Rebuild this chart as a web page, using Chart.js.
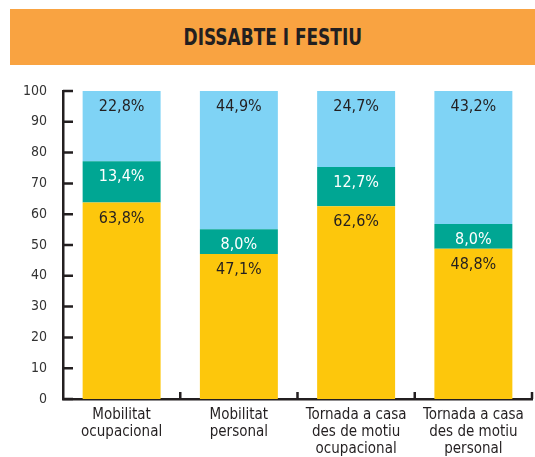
<!DOCTYPE html>
<html>
<head>
<meta charset="utf-8">
<script src="https://cdn.jsdelivr.net/npm/chart.js@4"></script>
<style>
  html, body { margin: 0; padding: 0; background: #fff; }
  #wrap { position: relative; width: 535px; height: 457px; }
  #banner {
    position: absolute; left: 10px; top: 9px; width: 525px; height: 56px;
    background: #f9a341; color: #231f20;
    font-family: "DejaVu Sans Condensed", sans-serif;
    font-weight: bold; font-size: 23px; line-height: 56px; text-align: center;
  }
  #banner span { display: inline-block; transform: scaleX(0.82); }
  #chart { position: absolute; left: 0; top: 0; }
</style>
</head>
<body>
<div id="wrap">
  <div id="banner"><span>DISSABTE I FESTIU</span></div>
  <canvas id="chart" width="535" height="457"></canvas>
</div>
<script>
// ===== DATA =====
const categories = [
  ["Mobilitat", "ocupacional"],
  ["Mobilitat", "personal"],
  ["Tornada a casa", "des de motiu", "ocupacional"],
  ["Tornada a casa", "des de motiu", "personal"],
];
const yellowValues = [63.8, 47.1, 62.6, 48.8];
const tealValues = [13.4, 8.0, 12.7, 8.0];
const blueValues = [22.8, 44.9, 24.7, 43.2];
const yTicks = [0, 10, 20, 30, 40, 50, 60, 70, 80, 90, 100];

const FONT = '"DejaVu Sans Condensed", sans-serif';
const INK = "#231f20";

// ===== PLUGINS =====
// inward axis ticks (y ticks point right, x ticks point up at category edges)
const axisTicks = {
  id: "axisTicks",
  afterDraw(chart) {
    const ctx = chart.ctx;
    const y = chart.scales.y;
    const x = chart.scales.x;
    const area = chart.chartArea;
    ctx.save();
    ctx.strokeStyle = INK;
    ctx.lineWidth = 2.5;
    ctx.beginPath();
    yTicks.forEach((t) => {
      const py = y.getPixelForValue(t);
      ctx.moveTo(area.left, py);
      ctx.lineTo(area.left + 10, py);
    });
    const step = (area.right - area.left) / categories.length;
    for (let i = 1; i <= categories.length; i++) {
      const px = x.getPixelForValue(i - 1) + step / 2;
      ctx.moveTo(px, area.bottom);
      ctx.lineTo(px, area.bottom - 7);
    }
    ctx.stroke();
    ctx.restore();
  },
};

// value labels near the top of each segment
const segLabels = {
  id: "segLabels",
  afterDatasetsDraw(chart) {
    const ctx = chart.ctx;
    ctx.save();
    ctx.font = "16px " + FONT;
    ctx.textAlign = "center";
    ctx.textBaseline = "middle";
    chart.data.datasets.forEach((ds, di) => {
      const meta = chart.getDatasetMeta(di);
      meta.data.forEach((el, i) => {
        ctx.fillStyle = ds.labelColor;
        const txt = ds.data[i].toFixed(1).replace(".", ",") + "%";
        ctx.fillText(txt, el.x, el.y + 16);
      });
    });
    ctx.restore();
  },
};

// ===== CHART =====
new Chart(document.getElementById("chart"), {
  type: "bar",
  data: {
    labels: categories,
    datasets: [
      { data: yellowValues, backgroundColor: "#fdc70c", labelColor: INK },
      { data: tealValues, backgroundColor: "#00a693", labelColor: "#ffffff" },
      { data: blueValues, backgroundColor: "#7fd3f5", labelColor: INK },
    ],
  },
  options: {
    responsive: false,
    animation: false,
    events: [],
    layout: { padding: { top: 91, right: 3, left: 0, bottom: 0 } },
    datasets: {
      bar: { categoryPercentage: 1, barPercentage: 0.665, borderWidth: 0 },
    },
    plugins: {
      legend: { display: false },
      tooltip: { enabled: false },
    },
    scales: {
      x: {
        stacked: true,
        afterFit: (s) => { s.height = 58; },
        border: { display: true, color: INK, width: 2.5 },
        grid: { display: false, drawTicks: false },
        ticks: {
          padding: 7,
          color: INK,
          font: { family: FONT, size: 15, lineHeight: 1.15 },
          maxRotation: 0,
          autoSkip: false,
        },
      },
      y: {
        stacked: true,
        min: 0,
        max: 100,
        afterFit: (s) => { s.width = 63; },
        afterBuildTicks: (s) => { s.ticks = yTicks.map((v) => ({ value: v })); },
        border: { display: true, color: INK, width: 2.5 },
        grid: { display: false, drawTicks: false },
        ticks: {
          padding: 16,
          color: "#333333",
          font: { family: FONT, size: 14 },
        },
      },
    },
  },
  plugins: [axisTicks, segLabels],
});
</script>
</body>
</html>
